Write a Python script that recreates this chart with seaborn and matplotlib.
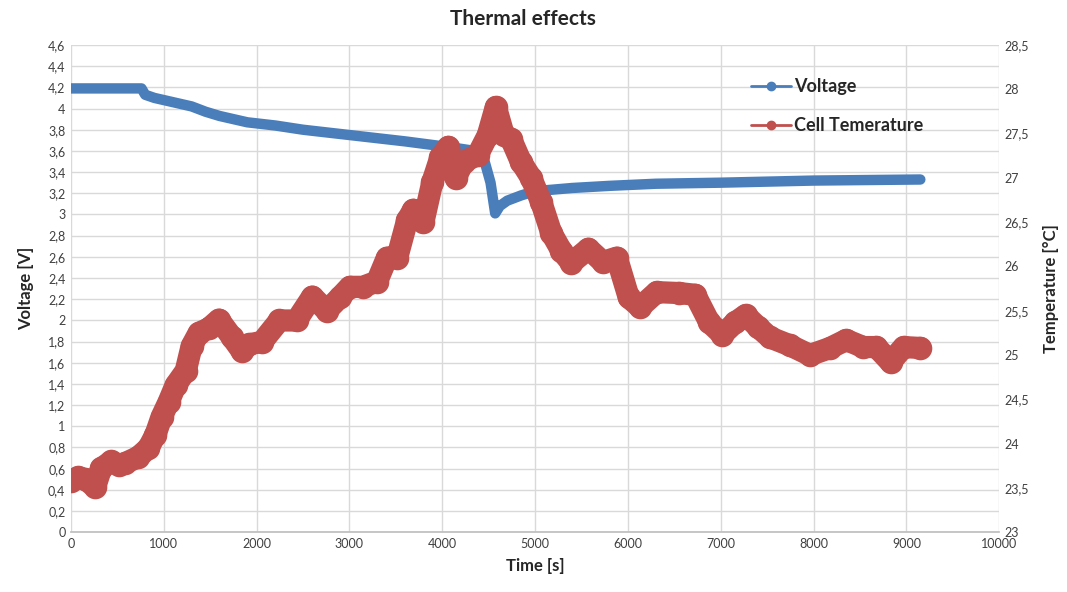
import matplotlib
matplotlib.use("Agg")
import matplotlib.pyplot as plt
from matplotlib.ticker import FixedLocator, FuncFormatter
from matplotlib.lines import Line2D
import seaborn as sns
import pandas as pd

# ---- data ----
volt_time = [0, 200, 400, 600, 760, 800, 900, 1100, 1300, 1450, 1600, 1900,
             2200, 2500, 2900, 3200, 3600, 3950, 4200, 4350, 4450, 4520, 4570,
             4620, 4700, 4850, 5000, 5400, 5800, 6300, 7000, 8000, 9150]
voltage = [4.19, 4.19, 4.19, 4.19, 4.19, 4.13, 4.10, 4.06, 4.02, 3.97, 3.93, 3.87,
           3.84, 3.80, 3.76, 3.73, 3.69, 3.65, 3.62, 3.60, 3.52, 3.30, 3.01,
           3.08, 3.13, 3.18, 3.22, 3.25, 3.27, 3.29, 3.30, 3.32, 3.33]

temp_time = [0, 80, 150, 260, 325, 435, 520, 585, 727, 835, 910, 976, 1052,
             1128, 1236, 1300, 1377, 1486, 1594, 1735, 1844, 1920, 2060, 2245,
             2430, 2600, 2755, 2896, 3004, 3145, 3297, 3405, 3514, 3622, 3688,
             3796, 3893, 3980, 4067, 4143, 4230, 4382, 4490, 4577, 4664, 4740,
             4848, 4957, 5065, 5174, 5282, 5390, 5575, 5730, 5880, 6009, 6130,
             6310, 6551, 6725, 6876, 7017, 7158, 7267, 7397, 7527, 7744, 7961,
             8178, 8351, 8536, 8677, 8829, 8970, 9150]
temperature = [23.58, 23.62, 23.60, 23.51, 23.72, 23.80, 23.76, 23.78, 23.85,
               23.95, 24.10, 24.30, 24.47, 24.66, 24.82, 25.10, 25.25, 25.30,
               25.40, 25.20, 25.04, 25.12, 25.15, 25.39, 25.39, 25.66, 25.50,
               25.65, 25.77, 25.77, 25.83, 26.10, 26.10, 26.52, 26.64, 26.50,
               26.95, 27.23, 27.35, 27.00, 27.18, 27.26, 27.48, 27.80, 27.48,
               27.44, 27.18, 27.00, 26.73, 26.38, 26.18, 26.04, 26.20, 26.05,
               26.10, 25.65, 25.54, 25.71, 25.70, 25.68, 25.37, 25.23, 25.37,
               25.45, 25.32, 25.20, 25.11, 25.00, 25.08, 25.17, 25.09, 25.09,
               24.92, 25.09, 25.08]

x_ticks = list(range(0, 10001, 1000))
v_ticks = [round(0.2 * i, 1) for i in range(24)]
t_ticks = [23 + 0.5 * i for i in range(12)]

title = "Thermal effects"
x_label = "Time [s]"
v_label = "Voltage [V]"
t_label = "Temperature [°C]"
v_name = "Voltage"
t_name = "Cell Temerature"

blue = "#4A7EBB"
red = "#C0504D"

# ---- plotting ----
sns.set_theme(style="white")
plt.rcParams["font.family"] = ["Lato", "DejaVu Sans"]

fig = plt.figure(figsize=(10.67, 5.92), dpi=100)
ax = fig.add_axes([0.0665, 0.101, 0.870, 0.823])
ax2 = ax.twinx()

vdf = pd.DataFrame({"t": volt_time, "v": voltage})
tdf = pd.DataFrame({"t": temp_time, "T": temperature})

sns.lineplot(data=vdf, x="t", y="v", ax=ax, color=blue, linewidth=7.5,
             solid_capstyle="round", solid_joinstyle="round", zorder=3)
sns.lineplot(data=tdf, x="t", y="T", ax=ax2, color=red, linewidth=16,
             marker="o", markersize=17, markeredgewidth=0,
             solid_capstyle="round", solid_joinstyle="round", zorder=3)

def comma(v, pos):
    s = f"{v:.1f}".rstrip("0").rstrip(".")
    return s.replace(".", ",")

ax.set_xlim(0, 10000)
ax.set_ylim(0, 4.6)
ax2.set_ylim(23, 28.5)
ax.xaxis.set_major_locator(FixedLocator(x_ticks))
ax.yaxis.set_major_locator(FixedLocator(v_ticks))
ax2.yaxis.set_major_locator(FixedLocator(t_ticks))
ax.yaxis.set_major_formatter(FuncFormatter(comma))
ax2.yaxis.set_major_formatter(FuncFormatter(comma))

ax.grid(True, color="#D9D9D9", linewidth=1)
ax.set_axisbelow(True)
ax2.grid(False)

for a in (ax, ax2):
    for s in a.spines.values():
        s.set_visible(False)
    a.tick_params(length=0, labelsize=9, colors="#404040", pad=4)
ax.spines["bottom"].set_visible(True)
ax.spines["bottom"].set_color("#BFBFBF")

ax.set_xlabel(x_label, fontsize=12, fontweight="bold", color="#262626", labelpad=6)
ax.set_ylabel(v_label, fontsize=12, fontweight="bold", color="#262626", labelpad=10)
ax2.set_ylabel(t_label, fontsize=12, fontweight="bold", color="#262626", labelpad=10)
fig.suptitle(title, x=0.49, y=0.985, fontsize=15, fontweight="bold", color="#262626")

handles = [Line2D([0], [0], color=blue, lw=2, marker="o", ms=6),
           Line2D([0], [0], color=red, lw=2, marker="o", ms=6)]
leg = ax2.legend(handles, [v_name, t_name], loc="upper left",
                 bbox_to_anchor=(0.715, 0.965), frameon=False,
                 prop={"weight": "bold", "size": 13}, handlelength=2.2,
                 handletextpad=0.2, labelspacing=1.2)
for t in leg.get_texts():
    t.set_color("#262626")

fig.savefig("out.png", dpi=100)
